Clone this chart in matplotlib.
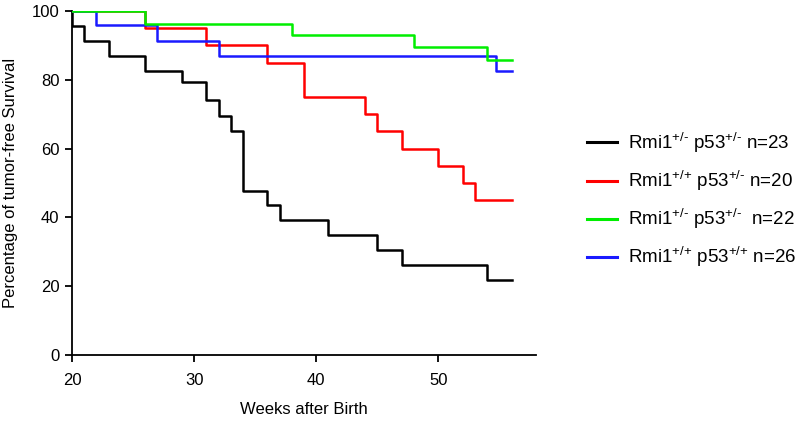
import matplotlib
matplotlib.use("Agg")
import matplotlib.pyplot as plt
from matplotlib.lines import Line2D

plt.rcParams.update(
    {
        "font.family": ["Liberation Sans", "DejaVu Sans"],
        "mathtext.fontset": "custom",
        "mathtext.rm": "Liberation Sans",
        "mathtext.it": "Liberation Sans",
        "mathtext.bf": "Liberation Sans",
    }
)

# --- Data ---
black_weeks = [20, 20, 21, 23, 26, 29, 31, 32, 33, 34, 36, 37, 41, 45, 47, 54, 56]
black_surv = [100, 95.7, 91.3, 87.0, 82.6, 79.3, 74.1, 69.6, 65.2, 47.8, 43.5, 39.1, 34.8, 30.4, 26.1, 21.7, 21.7]

red_weeks = [20, 26, 31, 36, 39, 44, 45, 47, 50, 52, 53, 56]
red_surv = [100, 95, 90, 85, 75, 70, 65, 60, 55, 50, 45, 45]

green_weeks = [20, 26, 38, 48, 54, 56]
green_surv = [100, 96.3, 93.1, 89.4, 85.8, 85.8]

blue_weeks = [20, 22, 27, 32, 54.7, 56]
blue_surv = [100, 96.0, 91.4, 87.0, 82.6, 82.6]

labels = [
    r"Rmi1$^{\text{+/-}}$ p53$^{\text{+/-}}$ n=23",
    r"Rmi1$^{\text{+/+}}$ p53$^{\text{+/-}}$ n=20",
    r"Rmi1$^{\text{+/-}}$ p53$^{\text{+/-}}$  n=22",
    r"Rmi1$^{\text{+/+}}$ p53$^{\text{+/+}}$ n=26",
]
colors = ["#000000", "#ff0000", "#00ee00", "#1a1aff"]

x_ticks = [20, 30, 40, 50]
y_ticks = [0, 20, 40, 60, 80, 100]

fig = plt.figure(figsize=(8, 4.22), dpi=100)
ax = fig.add_axes([0.09, 0.159, 0.58, 0.815])

lw = 1.8
ax.step(black_weeks, black_surv, where="post", color=colors[0], lw=lw, zorder=3)
ax.step(red_weeks, red_surv, where="post", color=colors[1], lw=lw, zorder=4)
ax.step(blue_weeks, blue_surv, where="post", color=colors[3], lw=lw, zorder=5)
ax.step(green_weeks, green_surv, where="post", color=colors[2], lw=lw, zorder=6)

ax.set_xlim(20, 58)
ax.set_ylim(0, 100)
ax.set_xticks(x_ticks)
ax.set_yticks(y_ticks)
ax.spines["top"].set_visible(False)
ax.spines["right"].set_visible(False)
for s in ("left", "bottom"):
    ax.spines[s].set_linewidth(1.3)
    ax.spines[s].set_clip_on(False)
ax.tick_params(direction="out", length=5, width=1.3, labelsize=12)
ax.tick_params(axis="x", pad=8)
ax.tick_params(axis="y", pad=4)

ax.set_xlabel("Weeks after Birth", fontsize=12, labelpad=10)
ax.set_ylabel("Percentage of tumor-free Survival", fontsize=12, labelpad=10)

handles = [Line2D([0], [0], color=c, lw=2.2) for c in colors]
fig.legend(
    handles,
    labels,
    loc="upper left",
    bbox_to_anchor=(0.734, 0.69),
    frameon=False,
    fontsize=13.5,
    handlelength=1.6,
    handletextpad=0.6,
    labelspacing=0.75,
    borderpad=0,
    borderaxespad=0,
)

fig.savefig("out.png", dpi=100)
